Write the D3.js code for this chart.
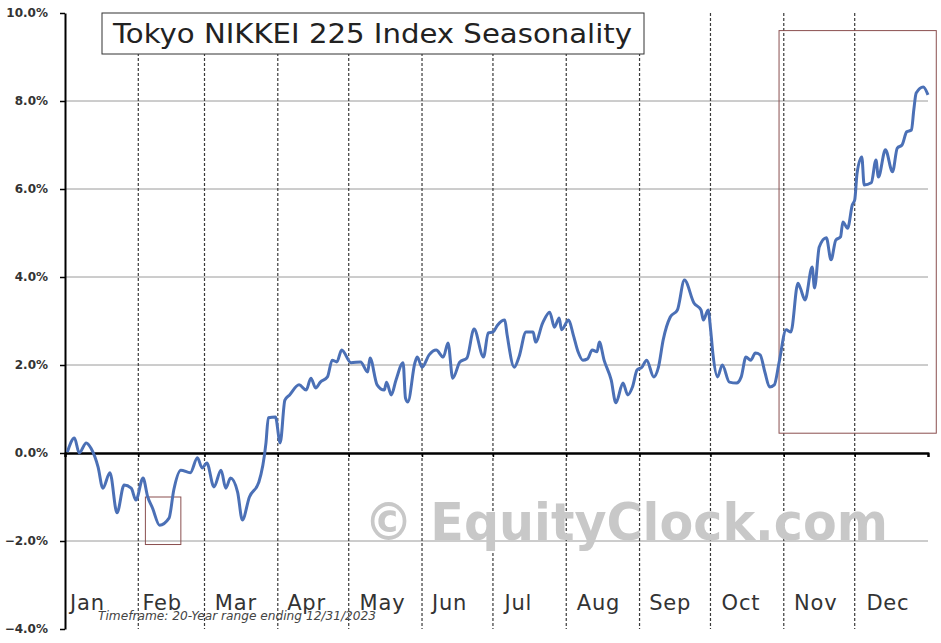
<!DOCTYPE html>
<html>
<head>
<meta charset="utf-8">
<script src="https://cdn.jsdelivr.net/npm/d3@7"></script>
<style>
  body { margin: 0; background: #fff; }
  text { font-family: "DejaVu Sans", Verdana, sans-serif; }
</style>
</head>
<body>
<svg id="chart" width="941" height="643"></svg>
<script>
// month names and the day-of-year each one starts on
const months = ["Jan", "Feb", "Mar", "Apr", "May", "Jun", "Jul", "Aug", "Sep", "Oct", "Nov", "Dec"];
const monthStart = [0, 31, 59, 90, 120, 151, 181, 212, 243, 273, 304, 334];
const yTicks = [-4, -2, 0, 2, 4, 6, 8, 10];

// seasonal average return (%): day of year -> value
const days = [1, 4, 6, 9, 11, 14, 16, 19, 22, 25, 28, 30, 33, 35, 37, 40, 44, 46, 49, 53,
  56, 58, 60, 63, 66, 68, 70, 73, 75, 78, 82, 85, 86, 89, 91, 93, 95, 99, 102, 104,
  106, 108, 111, 113, 115, 117, 121, 125, 128, 129, 132, 135, 136, 138, 140, 143, 144, 145, 148, 149,
  151, 154, 157, 160, 162, 164, 167, 170, 173, 177, 179, 181, 183, 186, 187, 190, 192, 195, 198, 199,
  202, 205, 207, 209, 210, 213, 215, 217, 219, 221, 223, 225, 226, 228, 231, 233, 236, 238, 240, 242,
  244, 246, 249, 251, 253, 256, 259, 262, 266, 269, 270, 272, 273, 274, 276, 278, 281, 284, 286, 288,
  290, 292, 294, 296, 298, 300, 302, 305, 307, 310, 311, 313, 316, 317, 319, 322, 324, 326, 328, 329,
  331, 333, 334, 335, 337, 338, 341, 343, 344, 347, 350, 352, 354, 356, 358, 359, 360, 363, 365];
const values = [0.02, 0.34, 0.00, 0.23, 0.11, -0.32, -0.80, -0.45, -1.36, -0.73, -0.80, -1.07, -0.57, -1.00, -1.25, -1.64, -1.48, -0.84, -0.39, -0.45,
  -0.11, -0.34, -0.23, -0.77, -0.39, -0.80, -0.57, -0.89, -1.52, -1.00, -0.66, 0.23, 0.80, 0.82, 0.23, 1.20, 1.32, 1.55, 1.43, 1.70,
  1.48, 1.61, 1.73, 2.11, 2.07, 2.34, 2.05, 2.07, 1.84, 2.16, 1.55, 1.43, 1.61, 1.32, 1.66, 2.05, 1.25, 1.16, 2.05, 2.18,
  1.95, 2.23, 2.34, 2.18, 2.50, 1.70, 2.07, 2.16, 2.82, 2.18, 2.73, 2.75, 2.91, 3.02, 2.68, 1.95, 2.18, 2.75, 2.75, 2.52,
  2.95, 3.20, 2.86, 3.07, 2.80, 3.02, 2.68, 2.30, 2.11, 2.14, 2.34, 2.30, 2.52, 2.11, 1.66, 1.14, 1.59, 1.32, 1.50, 1.89,
  1.95, 2.11, 1.73, 1.95, 2.57, 3.09, 3.25, 3.93, 3.41, 3.25, 3.02, 3.25, 2.84, 2.27, 1.73, 2.00, 1.61, 1.59, 1.73, 2.18,
  2.11, 2.27, 2.23, 1.84, 1.50, 1.55, 2.05, 2.80, 2.75, 3.86, 3.75, 3.48, 4.23, 3.75, 4.68, 4.89, 4.39, 4.84, 4.91, 5.25,
  5.11, 5.64, 5.75, 6.36, 6.73, 6.09, 6.14, 6.66, 6.27, 6.89, 6.39, 6.93, 7.00, 7.30, 7.34, 7.80, 8.18, 8.32, 8.14];

// highlighted periods: [start day, end day, top %, bottom %]
const highlights = [[34, 49, -1.0, -2.08], [302, 368.5, 9.6, 0.45]];

const svg = d3.select("#chart");
const margin = { top: 13, right: 13, bottom: 14, left: 65 };
const width = 941, height = 643;

const x = d3.scaleLinear().domain([0, 365]).range([margin.left, width - margin.right]);
const y = d3.scaleLinear().domain([-4, 10]).range([height - margin.bottom, margin.top]);
// month labels sit on an even grid, not on the calendar dividers
const labelX = d3.scaleBand().domain(months).range([margin.left + 3, margin.left + 3 + 12 * 72.4]);

const series = days.map((d, i) => ({ day: d, value: values[i] }));

// horizontal gridlines
svg.append("g")
  .selectAll("line")
  .data(yTicks.filter(t => t !== 0 && t !== 10 && t !== -4))
  .join("line")
  .attr("x1", x(0)).attr("x2", x(365))
  .attr("y1", d => y(d)).attr("y2", d => y(d))
  .attr("stroke", "#9a9a9a")
  .attr("stroke-width", 1);

// month dividers
svg.append("g")
  .selectAll("line")
  .data(monthStart.slice(1))
  .join("line")
  .attr("x1", d => x(d)).attr("x2", d => x(d))
  .attr("y1", y(10)).attr("y2", y(-4))
  .attr("stroke", "#3a3a3a")
  .attr("stroke-width", 1.2)
  .attr("stroke-dasharray", "3,2");

// watermark
svg.append("text")
  .attr("x", 364).attr("y", 540)
  .attr("textLength", 524).attr("lengthAdjust", "spacingAndGlyphs")
  .style("font-size", "51px").style("font-weight", "bold")
  .attr("fill", "#c8c8c8")
  .text("\u00A9 EquityClock.com");

// highlight boxes
svg.append("g")
  .selectAll("rect")
  .data(highlights)
  .join("rect")
  .attr("x", d => x(d[0])).attr("y", d => y(d[2]))
  .attr("width", d => x(d[1]) - x(d[0]))
  .attr("height", d => y(d[3]) - y(d[2]))
  .attr("fill", "none")
  .attr("stroke", "#8a4f4f")
  .attr("stroke-width", 1);

// y axis
const yAxis = svg.append("g")
  .attr("transform", "translate(" + x(0) + ",0)")
  .call(d3.axisLeft(y).tickValues(yTicks).tickSize(5).tickSizeOuter(0)
    .tickFormat(d => d3.format(".1f")(d) + "%"));
yAxis.select(".domain").attr("stroke", "#000").attr("stroke-width", 2);
yAxis.selectAll(".tick line").attr("stroke", "#000").attr("stroke-width", 1.5);
yAxis.selectAll(".tick text")
  .attr("x", -17)
  .attr("fill", "#333")
  .style("font-family", "'DejaVu Sans', Verdana, sans-serif")
  .style("font-size", "12px")
  .style("font-weight", "bold");

// zero axis
const xAxis = svg.append("g")
  .attr("transform", "translate(0," + y(0) + ")")
  .call(d3.axisBottom(x).tickValues(monthStart.slice(1)).tickSize(4).tickSizeOuter(4).tickFormat(""));
xAxis.select(".domain").attr("stroke", "#000").attr("stroke-width", 2.5).attr("stroke-linejoin", "round");
xAxis.selectAll(".tick line").attr("stroke", "#000").attr("stroke-width", 1.5);

// month labels
svg.append("g")
  .selectAll("text")
  .data(months)
  .join("text")
  .attr("x", d => labelX(d) + 2)
  .attr("y", 610)
  .attr("fill", "#333")
  .style("font-size", "21px")
  .style("letter-spacing", "0.8px")
  .text(d => d);

// seasonal line
svg.append("path")
  .datum(series)
  .attr("fill", "none")
  .attr("stroke", "#4b70b6")
  .attr("stroke-width", 3)
  .attr("stroke-linejoin", "round")
  .attr("d", d3.line().x(d => x(d.day)).y(d => y(d.value)).curve(d3.curveMonotoneX));

// timeframe note
svg.append("text")
  .attr("x", 98).attr("y", 620)
  .attr("textLength", 278).attr("lengthAdjust", "spacingAndGlyphs")
  .attr("fill", "#444")
  .style("font-size", "12px").style("font-style", "italic")
  .text("Timeframe: 20-Year range ending 12/31/2023");

// title box
svg.append("rect")
  .attr("x", 102).attr("y", 13)
  .attr("width", 542).attr("height", 41)
  .attr("fill", "#fff")
  .attr("stroke", "#333")
  .attr("stroke-width", 1);

svg.append("text")
  .attr("x", 113).attr("y", 43)
  .attr("textLength", 519).attr("lengthAdjust", "spacingAndGlyphs")
  .attr("fill", "#222")
  .style("font-size", "26px")
  .text("Tokyo NIKKEI 225 Index Seasonality");
</script>
</body>
</html>
